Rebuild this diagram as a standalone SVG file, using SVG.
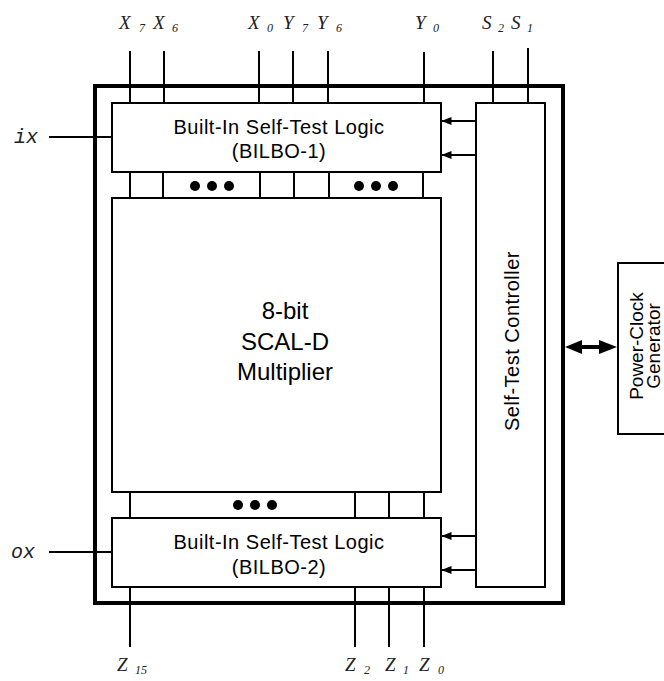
<svg xmlns="http://www.w3.org/2000/svg" width="664" height="681" viewBox="0 0 664 681">
<defs>
<style>
.box{fill:#fff;stroke:#000;stroke-width:2}
.chip{fill:none;stroke:#000;stroke-width:4}
.w{stroke:#000;stroke-width:2;fill:none}
.t{font-family:"Liberation Sans",Arial,sans-serif;fill:#000;text-anchor:middle}
.bt{font-size:20px;letter-spacing:0.5px}
.pt{font-size:19px}
.mt{font-size:24px}
.lbl{font-family:"Liberation Serif","Times New Roman",serif;font-style:italic;font-size:19px;fill:#222}
.sub{font-size:12px}
.io{font-family:"Liberation Mono","Courier New",monospace;font-style:italic;font-size:20px;fill:#222}
.dot{fill:#000}
</style>
<marker id="ah" markerUnits="userSpaceOnUse" markerWidth="10" markerHeight="8" refX="10" refY="4" orient="auto">
<path d="M0,0 L10,4 L0,8 z" fill="#000"/>
</marker>
</defs>
<rect width="664" height="681" fill="#fff"/>

<g id="connectors">
<path class="w" d="M130,51 V103 M164,51 V103 M259,51 V103 M293,51 V103 M328,51 V103 M424,52 V103 M493,51 V103 M528,48 V103"/>
<path class="w" d="M130,172 V198 M163,172 V198 M260,172 V198 M294,172 V198 M329,172 V198 M423,172 V198"/>
<path class="w" d="M130,492 V518 M355,492 V518 M389,492 V518 M424,492 V518"/>
<path class="w" d="M130,587 V647 M355,587 V647 M389,587 V647 M424,587 V647"/>
<path class="w" d="M49,137 H112 M49,552 H112"/>
<line class="w" x1="476" y1="121" x2="441.5" y2="121" marker-end="url(#ah)"/>
<line class="w" x1="476" y1="155" x2="441.5" y2="155" marker-end="url(#ah)"/>
<line class="w" x1="476" y1="536" x2="441.5" y2="536" marker-end="url(#ah)"/>
<line class="w" x1="476" y1="570" x2="441.5" y2="570" marker-end="url(#ah)"/>
<path d="M565,347 L582,340 L582,345 L599,345 L599,340 L617,347 L599,354 L599,349 L582,349 L582,354 Z" fill="#000"/>
</g>

<g id="chip">
<rect class="chip" x="95" y="86" width="468" height="517"/>
</g>

<g id="bilbo1">
<rect class="box" x="112" y="103" width="329" height="69"/>
<text class="t bt" x="279" y="134">Built-In Self-Test Logic</text>
<text class="t bt" x="279" y="158">(BILBO-1)</text>
</g>

<g id="dots1">
<circle class="dot" cx="195" cy="186" r="5"/>
<circle class="dot" cx="212" cy="186" r="5"/>
<circle class="dot" cx="229" cy="186" r="5"/>
<circle class="dot" cx="359" cy="186" r="5"/>
<circle class="dot" cx="376" cy="186" r="5"/>
<circle class="dot" cx="393" cy="186" r="5"/>
</g>

<g id="multiplier">
<rect class="box" x="112" y="198" width="329" height="294"/>
<text class="t mt" x="285" y="319">8-bit</text>
<text class="t mt" x="285" y="350">SCAL-D</text>
<text class="t mt" x="285" y="380">Multiplier</text>
</g>

<g id="dots2">
<circle class="dot" cx="238" cy="505" r="5"/>
<circle class="dot" cx="255" cy="505" r="5"/>
<circle class="dot" cx="272" cy="505" r="5"/>
</g>

<g id="bilbo2">
<rect class="box" x="112" y="518" width="329" height="69"/>
<text class="t bt" x="279" y="549">Built-In Self-Test Logic</text>
<text class="t bt" x="279" y="574">(BILBO-2)</text>
</g>

<g id="controller">
<rect class="box" x="476" y="103" width="69" height="484"/>
<text class="t bt" transform="translate(519,341) rotate(-90)" x="0" y="0">Self-Test Controller</text>
</g>

<g id="powerclock">
<rect class="box" x="618" y="263" width="60" height="171"/>
<text class="t pt" transform="translate(643,346) rotate(-90)" x="0" y="0">Power-Clock</text>
<text class="t pt" transform="translate(660,346) rotate(-90)" x="0" y="0">Generator</text>
</g>

<g id="labels">
<text class="lbl" x="119" y="29">X<tspan class="sub" x="139" dy="3">7</tspan></text>
<text class="lbl" x="153" y="29">X<tspan class="sub" x="172" dy="3">6</tspan></text>
<text class="lbl" x="248" y="29">X<tspan class="sub" x="267" dy="3">0</tspan></text>
<text class="lbl" x="283" y="29">Y<tspan class="sub" x="302" dy="3">7</tspan></text>
<text class="lbl" x="317" y="29">Y<tspan class="sub" x="336" dy="3">6</tspan></text>
<text class="lbl" x="415" y="29">Y<tspan class="sub" x="433" dy="3">0</tspan></text>
<text class="lbl" x="482" y="29">S<tspan class="sub" x="498" dy="3">2</tspan></text>
<text class="lbl" x="511" y="29">S<tspan class="sub" x="527" dy="3">1</tspan></text>
<text class="io" x="14" y="143">ix</text>
<text class="io" x="11" y="558">ox</text>
<text class="lbl" x="117" y="671">Z<tspan class="sub" x="135" dy="3">15</tspan></text>
<text class="lbl" x="345" y="671">Z<tspan class="sub" x="364" dy="3">2</tspan></text>
<text class="lbl" x="385" y="671">Z<tspan class="sub" x="403" dy="3">1</tspan></text>
<text class="lbl" x="419" y="671">Z<tspan class="sub" x="438" dy="3">0</tspan></text>
</g>
</svg>
